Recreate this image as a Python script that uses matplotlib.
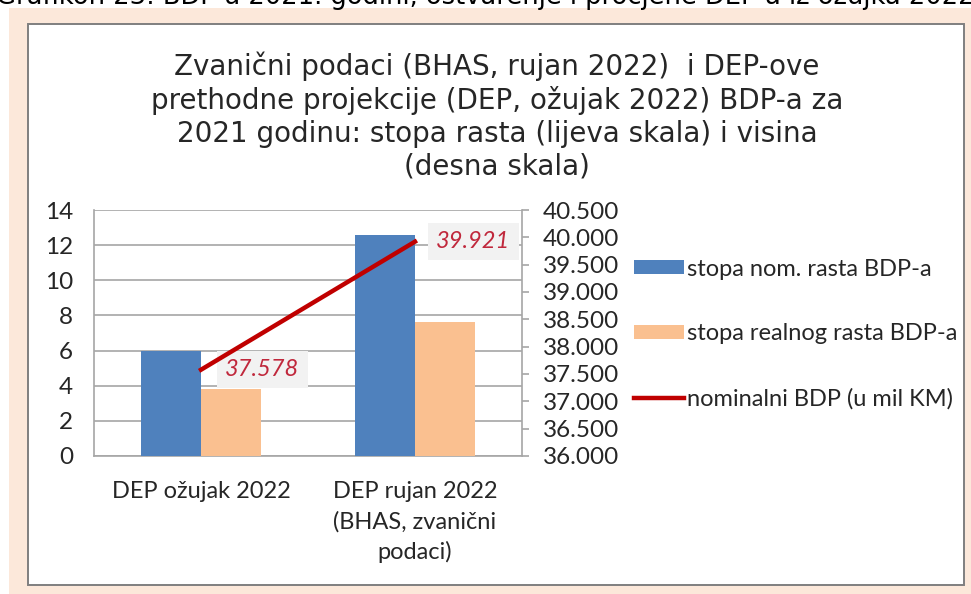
import matplotlib.pyplot as plt
from matplotlib.patches import Rectangle
from matplotlib.ticker import FuncFormatter

categories = ["DEP ožujak 2022", "DEP rujan 2022\n(BHAS, zvanični\npodaci)"]
nom_growth = [6.0, 12.6]
real_growth = [3.8, 7.6]
nominal_gdp = [37578, 39921]

BLUE = "#4F81BD"
PEACH = "#FAC090"
RED = "#C00000"
LABEL_RED = "#C0283C"
GRID = "#A6A6A6"
TXT = "#262626"

W, H = 971, 594
fig = plt.figure(figsize=(W / 100, H / 100), dpi=100)


def fx(px):
    return px / W


def fy(py):
    return 1 - py / H


# page background and chart frame
fig.patches.append(Rectangle((fx(9), fy(594)), fx(971 - 9), fy(8) - fy(594),
                             transform=fig.transFigure, facecolor="#FCE8DA",
                             edgecolor="none", zorder=0))
fig.patches.append(Rectangle((fx(28), fy(585)), fx(964 - 28), fy(24) - fy(585),
                             transform=fig.transFigure, facecolor="white",
                             edgecolor="#7F7F7F", lw=1.4, zorder=1))

fig.text(fx(-4), fy(4), "Grafikon 23: BDP u 2021. godini, ostvarenje i procjene DEP-a iz ožujka 2022",
         fontsize=18.5, family="DejaVu Sans", color="black", va="baseline", ha="left")

fig.text(fx(497), fy(116),
         "Zvanični podaci (BHAS, rujan 2022)  i DEP-ove\n"
         "prethodne projekcije (DEP, ožujak 2022) BDP-a za\n"
         "2021 godinu: stopa rasta (lijeva skala) i visina\n"
         "(desna skala)",
         fontsize=20, family="DejaVu Sans", color=TXT, ha="center", va="center",
         linespacing=1.22)

ax = fig.add_axes([fx(94), fy(456), fx(522 - 94), fy(210) - fy(456)])
ax.set_zorder(2)
ax.patch.set_visible(False)

x = [0, 1]
bw = 0.28
ax.bar([i - bw / 2 for i in x], nom_growth, width=bw, color=BLUE, zorder=3,
       label="stopa nom. rasta BDP-a")
ax.bar([i + bw / 2 for i in x], real_growth, width=bw, color=PEACH, zorder=3,
       label="stopa realnog rasta BDP-a")
ax.set_xlim(-0.5, 1.5)
ax.set_ylim(0, 14)
ax.set_yticks(range(0, 15, 2))
ax.grid(axis="y", color=GRID, lw=1.2, zorder=1)
ax.set_xticks(x)
ax.set_xticklabels(categories, fontsize=17, family="Lato", color=TXT, linespacing=1.5)
ax.tick_params(axis="x", length=0, pad=18)
ax.tick_params(axis="y", length=0, pad=15, labelsize=17.5, labelcolor=TXT)
for lab in ax.get_yticklabels():
    lab.set_family("Lato")
for s in ["top", "right"]:
    ax.spines[s].set_visible(False)
for s in ["left", "bottom"]:
    ax.spines[s].set_color(GRID)
    ax.spines[s].set_linewidth(1.2)

ax2 = ax.twinx()
ax2.set_ylim(36000, 40500)
ax2.set_yticks(range(36000, 40501, 500))
ax2.yaxis.set_major_formatter(FuncFormatter(lambda v, p: f"{v:,.0f}".replace(",", ".")))
line, = ax2.plot(x, nominal_gdp, color=RED, lw=3.2, zorder=5,
                 label="nominalni BDP (u mil KM)")
ax2.tick_params(axis="y", length=5, width=1.2, color=GRID, pad=10, labelsize=17.5, labelcolor=TXT)
for lab in ax2.get_yticklabels():
    lab.set_family("Lato")
for s in ["top", "left", "bottom"]:
    ax2.spines[s].set_visible(False)
ax2.spines["right"].set_color(GRID)
ax2.spines["right"].set_linewidth(1.2)

for xi, v, dx in zip(x, nominal_gdp, [44, 42]):
    ax2.annotate(f"{v:,}".replace(",", "."), (xi, v), xytext=(dx, 0),
                 textcoords="offset points", ha="center", va="center",
                 fontsize=17, family="Lato", style="italic", color=LABEL_RED,
                 bbox=dict(boxstyle="square,pad=0.35", facecolor="#F2F2F2", edgecolor="none"))

handles = ax.get_legend_handles_labels()[0] + [line]
labels = [h.get_label() for h in handles]
fig.legend(handles, labels, loc="center left", bbox_to_anchor=(fx(613), fy(334)),
           frameon=False, prop={"family": "Lato", "size": 17},
           handlelength=2.1, handleheight=0.55, handletextpad=0.15, labelspacing=1.85,
           labelcolor=TXT)

fig.savefig("out.png", dpi=100)
